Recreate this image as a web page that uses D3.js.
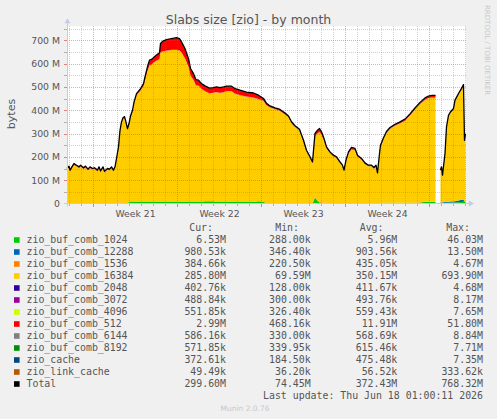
<!DOCTYPE html>
<html><head><meta charset="utf-8">
<script src="https://cdn.jsdelivr.net/npm/d3@7"></script>
<style>body{margin:0;background:#F0F0F0;}svg{display:block;}</style>
</head><body><svg id="c" width="497" height="419"></svg>
<script>
const title = "Slabs size [zio] - by month";
const startTime = "2026-05-15T20:00:00Z";
const spanHours = 798;
const hoursFromStart = [
0,4,6,11,14,19,24,27,33,37,42,46,51,55,61,64,67,72,75,81,
85,89,93,96,99,103,106,109,112,115,117,121,124,127,131,134,139,146,153,156,
161,165,169,174,179,185,187,191,199,209,219,225,229,236,243,247,253,258,263,269,
276,285,293,299,306,313,319,329,336,346,359,373,383,393,399,406,416,426,436,443,
449,456,465,473,479,486,491,496,501,505,509,514,519,526,533,539,546,551,554,558,
563,569,576,581,589,596,603,609,614,618,621,625,627,633,639,646,656,666,676,686,
696,706,716,723,730,737,742,747,749,751,756,759,763,767,773,776,783,789,793,795,797];

const seriesNames = ["zio_buf_comb_1024","zio_buf_comb_12288","zio_buf_comb_1536","zio_buf_comb_16384","zio_buf_comb_2048","zio_buf_comb_3072","zio_buf_comb_4096","zio_buf_comb_512","zio_buf_comb_6144","zio_buf_comb_8192","zio_cache","zio_link_cache"];
const seriesColors = ["#00CC00","#0066B3","#FF8000","#FFCC00","#330099","#990099","#CCFF00","#FF0000","#808080","#008F00","#00487D","#B35A00"];

// values in MB
const s1024 = [
0.5,0.5,0.5,0.5,0.5,0.5,0.5,0.5,0.5,0.5,0.5,0.5,0.5,0.5,0.5,0.5,0.5,0.5,0.5,0.5,
0.5,0.5,0.5,0.5,0.5,0.5,0.5,0.5,0.5,0.5,0.5,0.5,6,6,6,6,6,6,6,6,
6,6,6,6,6,6,6,6,6,6,6,6,6,6,6,6,6,6,6,6,
6,6,6,6,6,6,6,6,6,6,6,6,6,6,0.5,0.5,0.5,0.5,0.5,0.5,
0.5,0.5,0.5,0.5,0.5,0.5,0.5,25,10,4,2,0.5,0.5,0.5,0.5,0.5,0.5,0.5,0.5,0.5,
0.5,0.5,0.5,0.5,0.5,0.5,0.5,0.5,0.5,0.5,0.5,0.5,3,3,3,3,3,3,3,3,
3,3,7,7,7,7,null,2,2,2,3,3,3,4,4,4,5,6,7,7,6.5];
const s12288 = [
0.4,0.4,0.4,0.4,0.4,0.4,0.4,0.4,0.4,0.4,0.4,0.4,0.4,0.4,0.4,0.4,0.4,0.4,0.4,0.4,
0.4,0.4,0.4,0.4,0.4,0.4,0.4,0.4,0.4,0.4,0.4,0.4,0.4,0.4,0.4,0.4,0.4,0.4,0.4,0.4,
0.4,0.4,0.4,0.4,0.4,0.4,0.4,0.4,0.4,0.4,0.4,0.4,0.4,0.4,0.4,0.4,0.4,0.4,0.4,0.4,
3,3,3,0.4,0.4,0.4,0.4,0.4,0.4,0.4,0.4,0.4,3,2,0.4,0.4,0.4,0.4,0.4,0.4,
0.4,0.4,0.4,0.4,0.4,0.4,0.4,0.4,0.4,0.4,0.4,0.4,0.4,0.4,0.4,0.4,0.4,0.4,0.4,0.4,
0.4,0.4,0.4,0.4,0.4,0.4,0.4,0.4,0.4,0.4,0.4,0.4,0.4,0.4,0.4,0.4,0.4,0.4,0.4,0.4,
0.4,0.4,0.4,0.4,0.4,0.4,null,2,2,2,4,4,4,5,5,6,8,10,10,2,1];
const s1536 = [
0.3,0.3,0.3,0.3,0.3,0.3,0.3,0.3,0.3,0.3,0.3,0.3,0.3,0.3,0.3,0.3,0.3,0.3,0.3,0.3,
0.3,0.3,0.3,0.3,2,3,3,3,2,0.3,0.3,0.3,0.3,0.3,0.3,0.3,0.3,0.3,0.3,0.3,
0.3,0.3,0.3,0.3,0.3,0.3,0.3,0.3,0.3,0.3,0.3,0.3,0.3,0.3,0.3,0.3,0.3,0.3,0.3,0.3,
0.3,0.3,0.3,0.3,0.3,0.3,0.3,0.3,0.3,0.3,0.3,0.3,0.3,0.3,0.3,0.3,0.3,0.3,0.3,0.3,
0.3,0.3,0.3,0.3,0.3,0.3,0.3,2,3,3,3,2,2,0.3,0.3,0.3,0.3,0.3,0.3,0.3,
0.3,0.3,0.3,0.3,0.3,0.3,0.3,0.3,0.3,0.3,0.3,0.3,0.3,0.3,0.3,0.3,0.3,0.3,0.3,0.3,
0.3,2,0.3,0.3,0.3,0.3,null,0.3,0.3,0.3,0.3,0.3,0.3,0.3,0.3,0.3,0.3,0.3,0.3,0.3,0.3];
const s16384 = [
143,153,136,154,164,157,150,157,146,153,140,150,143,146,136,150,133,150,131,143,
140,150,136,150,184,233,304,340,359,365,350,314,330,362,387,422,457,474,496,521,
562,585,588,597,605,611,641,643,648,651,651,649,639,614,578,541,522,499,498,484,
472,462,464,470,467,470,473,473,463,457,450,446,437,431,420,410,402,395,380,367,
342,326,311,264,221,193,171,260,286,299,289,267,233,214,200,193,171,157,136,179,
213,230,227,200,186,167,157,157,147,157,124,207,240,272,299,316,329,339,351,373,
399,420,436,443,445,445,null,133,147,111,201,315,365,378,392,427,452,471,486,255,286];
const s2048 = [
0.4,0.4,0.4,0.4,0.4,0.4,0.4,0.4,0.4,0.4,0.4,0.4,0.4,0.4,0.4,0.4,0.4,0.4,0.4,0.4,
0.4,0.4,0.4,0.4,0.4,0.4,0.4,0.4,0.4,0.4,0.4,0.4,0.4,0.4,0.4,0.4,0.4,0.4,0.4,0.4,
0.4,0.4,0.4,0.4,0.4,0.4,0.4,0.4,0.4,0.4,0.4,0.4,0.4,0.4,0.4,0.4,0.4,0.4,0.4,0.4,
0.4,0.4,0.4,0.4,0.4,0.4,0.4,0.4,0.4,0.4,0.4,0.4,0.4,0.4,0.4,0.4,0.4,0.4,0.4,0.4,
0.4,0.4,0.4,0.4,0.4,0.4,0.4,0.4,0.4,0.4,0.4,0.4,0.4,0.4,0.4,0.4,0.4,0.4,0.4,0.4,
0.4,0.4,0.4,0.4,0.4,0.4,0.4,0.4,0.4,0.4,0.4,0.4,0.4,0.4,0.4,0.4,0.4,0.4,0.4,0.4,
0.4,0.4,0.4,0.4,0.4,0.4,null,0.4,0.4,0.4,0.4,0.4,0.4,0.4,0.4,0.4,0.4,0.4,0.4,0.4,0.4];
const s3072 = [
0.49,0.49,0.49,0.49,0.49,0.49,0.49,0.49,0.49,0.49,0.49,0.49,0.49,0.49,0.49,0.49,0.49,0.49,0.49,0.49,
0.49,0.49,0.49,0.49,0.49,0.49,0.49,0.49,0.49,0.49,0.49,0.49,0.49,0.49,0.49,0.49,0.49,0.49,0.49,0.49,
0.49,0.49,0.49,0.49,0.49,0.49,0.49,0.49,0.49,0.49,0.49,0.49,0.49,0.49,0.49,0.49,0.49,0.49,0.49,0.49,
0.49,0.49,0.49,0.49,0.49,0.49,0.49,0.49,0.49,0.49,0.49,0.49,0.49,0.49,0.49,0.49,0.49,0.49,0.49,0.49,
0.49,0.49,0.49,0.49,0.49,0.49,0.49,0.49,0.49,0.49,0.49,0.49,0.49,0.49,0.49,0.49,0.49,0.49,0.49,0.49,
0.49,0.49,0.49,0.49,0.49,0.49,0.49,0.49,0.49,0.49,0.49,0.49,0.49,0.49,0.49,0.49,0.49,0.49,0.49,0.49,
0.49,0.49,0.49,0.49,0.49,0.49,null,0.49,0.49,0.49,0.49,0.49,0.49,0.49,0.49,0.49,0.49,0.49,0.49,0.49,0.49];
const s4096 = [
0.55,0.55,0.55,0.55,0.55,0.55,0.55,0.55,0.55,0.55,0.55,0.55,0.55,0.55,0.55,0.55,0.55,0.55,0.55,0.55,
0.55,0.55,0.55,0.55,0.55,0.55,0.55,0.55,0.55,0.55,0.55,0.55,0.55,0.55,0.55,0.55,0.55,0.55,0.55,0.55,
0.55,0.55,0.55,0.55,0.55,0.55,0.55,0.55,0.55,0.55,0.55,0.55,0.55,0.55,0.55,0.55,0.55,0.55,0.55,0.55,
0.55,0.55,0.55,0.55,0.55,0.55,0.55,0.55,0.55,0.55,0.55,0.55,0.55,0.55,0.55,0.55,0.55,0.55,0.55,0.55,
0.55,0.55,0.55,0.55,0.55,0.55,0.55,0.55,0.55,0.55,0.55,0.55,0.55,0.55,0.55,0.55,0.55,0.55,0.55,0.55,
0.55,0.55,0.55,0.55,0.55,0.55,0.55,0.55,0.55,0.55,0.55,0.55,0.55,0.55,0.55,0.55,0.55,0.55,0.55,0.55,
0.55,0.55,0.55,0.55,0.55,0.55,null,0.55,0.55,0.55,0.55,0.55,0.55,0.55,0.55,0.55,0.55,0.55,0.55,0.55,0.55];
const s512 = [
3,3,3,3,3,3,3,3,3,3,3,3,3,3,3,3,3,3,3,3,
3,3,3,3,3,3,3,3,3,3,3,3,3,3,3,3,4,5,8,12,
15,20,20,20,22,25,35,42,45,46,50,48,44,40,33,28,25,22,21,20,
20,20,20,20,20,20,20,20,20,19,18,18,15,8,5,4,4,4,4,4,
4,3,3,3,3,3,3,10,12,12,10,6,4,3,3,3,3,3,3,3,
4,6,5,3,3,3,3,3,3,3,3,3,3,3,3,3,4,4,4,4,
4,5,6,7,8,8,null,3,3,3,3,3,3,3,3,3,3,3,3,3,3];
const s6144 = [
0.59,0.59,0.59,0.59,0.59,0.59,0.59,0.59,0.59,0.59,0.59,0.59,0.59,0.59,0.59,0.59,0.59,0.59,0.59,0.59,
0.59,0.59,0.59,0.59,0.59,0.59,0.59,0.59,0.59,0.59,0.59,0.59,0.59,0.59,0.59,0.59,0.59,0.59,0.59,0.59,
0.59,0.59,0.59,0.59,0.59,0.59,0.59,0.59,0.59,0.59,0.59,0.59,0.59,0.59,0.59,0.59,0.59,0.59,0.59,0.59,
0.59,0.59,0.59,0.59,0.59,0.59,0.59,0.59,0.59,0.59,0.59,0.59,0.59,0.59,0.59,0.59,0.59,0.59,0.59,0.59,
0.59,0.59,0.59,0.59,0.59,0.59,0.59,0.59,0.59,0.59,0.59,0.59,0.59,0.59,0.59,0.59,0.59,0.59,0.59,0.59,
0.59,0.59,0.59,0.59,0.59,0.59,0.59,0.59,0.59,0.59,0.59,0.59,0.59,0.59,0.59,0.59,0.59,0.59,0.59,0.59,
0.59,0.59,0.59,0.59,0.59,0.59,null,0.59,0.59,0.59,0.59,0.59,0.59,0.59,0.59,0.59,0.59,0.59,0.59,0.59,0.59];
const s8192 = [
0.57,0.57,0.57,0.57,0.57,0.57,0.57,0.57,0.57,0.57,0.57,0.57,0.57,0.57,0.57,0.57,0.57,0.57,0.57,0.57,
0.57,0.57,0.57,0.57,0.57,0.57,0.57,0.57,0.57,0.57,0.57,0.57,0.57,0.57,0.57,0.57,0.57,0.57,0.57,0.57,
0.57,0.57,0.57,0.57,0.57,0.57,0.57,0.57,0.57,0.57,0.57,0.57,0.57,0.57,0.57,0.57,0.57,0.57,0.57,0.57,
0.57,0.57,0.57,0.57,0.57,0.57,0.57,0.57,0.57,0.57,0.57,0.57,0.57,0.57,0.57,0.57,0.57,0.57,0.57,0.57,
0.57,0.57,0.57,0.57,0.57,0.57,0.57,0.57,0.57,0.57,0.57,0.57,0.57,0.57,0.57,0.57,0.57,0.57,0.57,0.57,
0.57,0.57,0.57,0.57,0.57,0.57,0.57,0.57,0.57,0.57,0.57,0.57,0.57,0.57,0.57,0.57,0.57,0.57,0.57,0.57,
0.57,0.57,0.57,0.57,0.57,0.57,null,0.57,0.57,0.57,0.57,0.57,0.57,0.57,0.57,0.57,0.57,0.57,0.57,0.57,0.57];
const sCache = [
0.37,0.37,0.37,0.37,0.37,0.37,0.37,0.37,0.37,0.37,0.37,0.37,0.37,0.37,0.37,0.37,0.37,0.37,0.37,0.37,
0.37,0.37,0.37,0.37,0.37,0.37,0.37,0.37,0.37,0.37,0.37,0.37,0.37,0.37,0.37,0.37,0.37,0.37,0.37,0.37,
0.37,0.37,0.37,0.37,0.37,0.37,0.37,0.37,0.37,0.37,0.37,0.37,0.37,0.37,0.37,0.37,0.37,0.37,0.37,0.37,
0.37,0.37,0.37,0.37,0.37,0.37,0.37,0.37,0.37,0.37,0.37,0.37,0.37,0.37,0.37,0.37,0.37,0.37,0.37,0.37,
0.37,0.37,0.37,0.37,0.37,0.37,0.37,0.37,0.37,0.37,0.37,0.37,0.37,0.37,0.37,0.37,0.37,0.37,0.37,0.37,
0.37,0.37,0.37,0.37,0.37,0.37,0.37,0.37,0.37,0.37,0.37,0.37,0.37,0.37,0.37,0.37,0.37,0.37,0.37,0.37,
0.37,0.37,0.37,0.37,0.37,0.37,null,0.37,0.37,0.37,0.37,0.37,0.37,0.37,0.37,0.37,0.37,0.37,0.37,0.37,0.37];
const sLinkCache = [
0.05,0.05,0.05,0.05,0.05,0.05,0.05,0.05,0.05,0.05,0.05,0.05,0.05,0.05,0.05,0.05,0.05,0.05,0.05,0.05,
0.05,0.05,0.05,0.05,0.05,0.05,0.05,0.05,0.05,0.05,0.05,0.05,0.05,0.05,0.05,0.05,0.05,0.05,0.05,0.05,
0.05,0.05,0.05,0.05,0.05,0.05,0.05,0.05,0.05,0.05,0.05,0.05,0.05,0.05,0.05,0.05,0.05,0.05,0.05,0.05,
0.05,0.05,0.05,0.05,0.05,0.05,0.05,0.05,0.05,0.05,0.05,0.05,0.05,0.05,0.05,0.05,0.05,0.05,0.05,0.05,
0.05,0.05,0.05,0.05,0.05,0.05,0.05,0.05,0.05,0.05,0.05,0.05,0.05,0.05,0.05,0.05,0.05,0.05,0.05,0.05,
0.05,0.05,0.05,0.05,0.05,0.05,0.05,0.05,0.05,0.05,0.05,0.05,0.05,0.05,0.05,0.05,0.05,0.05,0.05,0.05,
0.05,0.05,0.05,0.05,0.05,0.05,null,0.05,0.05,0.05,0.05,0.05,0.05,0.05,0.05,0.05,0.05,0.05,0.05,0.05,0.05];

const yTickValues = [0,100,200,300,400,500,600,700];
const yTickLabels = ["0","100 M","200 M","300 M","400 M","500 M","600 M","700 M"];
const weekLabelDates = ["2026-05-21T12:00:00Z","2026-05-28T12:00:00Z","2026-06-04T12:00:00Z","2026-06-11T12:00:00Z"];

const legendCur = ["6.53M","980.53k","384.66k","285.80M","402.76k","488.84k","551.85k","2.99M","586.16k","571.85k","372.61k","49.49k","299.60M"];
const legendMin = ["288.00k","346.40k","220.50k","69.59M","128.00k","300.00k","326.40k","468.16k","330.00k","339.95k","184.50k","36.20k","74.45M"];
const legendAvg = ["5.96M","903.56k","435.05k","350.15M","411.67k","493.76k","559.43k","11.91M","568.69k","615.46k","475.48k","56.52k","372.43M"];
const legendMax = ["46.03M","13.50M","4.67M","693.90M","4.68M","8.17M","7.65M","51.80M","8.84M","7.71M","7.35M","333.62k","768.32M"];
const lastUpdate = "Last update: Thu Jun 18 01:00:11 2026";

const seriesValues = [s1024,s12288,s1536,s16384,s2048,s3072,s4096,s512,s6144,s8192,sCache,sLinkCache];

const svg = d3.select("#c");
const X0 = 67, X1 = 466, YB = 203.5, YT = 26.2;
const t0 = new Date(startTime);
const x = d3.scaleUtc().domain([t0, d3.utcHour.offset(t0, spanHours)]).range([X0, X1]);
const y = d3.scaleLinear().domain([0, 760]).range([YB, YT]);
const sans = "DejaVu Sans, sans-serif", mono = "DejaVu Sans Mono, monospace";

svg.append("rect").attr("x",X0).attr("y",YT).attr("width",X1-X0).attr("height",YB-YT).attr("fill","#fff");

const rows = hoursFromStart.map((h,i) => {
  const r = {t: d3.utcHour.offset(t0, 0).getTime() + h*3600e3, ok: s16384[i] != null};
  seriesNames.forEach((k,j) => r[k] = seriesValues[j][i] == null ? 0 : seriesValues[j][i]);
  return r;
});
const stacked = d3.stack().keys(seriesNames)(rows);
const area = d3.area().defined(d => d.data.ok).x(d => x(d.data.t)).y0(d => y(d[0])).y1(d => y(d[1]));
stacked.forEach((s,j) => svg.append("path").attr("d", area(s)).attr("fill", seriesColors[j]));

// grid
const g = svg.append("g").attr("shape-rendering","crispEdges");
const minorC = "rgba(120,120,120,0.35)", majorC = "rgba(230,60,60,0.45)";
d3.range(50, 800, 50).forEach(v => {
  const yy = Math.round(y(v)) + 0.5;
  if (yy < YT) return;
  g.append("line").attr("x1",X0).attr("x2",X1).attr("y1",yy).attr("y2",yy)
    .attr("stroke", v % 100 === 0 ? majorC : minorC).attr("stroke-dasharray","1,1");
});
const days = d3.utcDay.range(d3.utcDay.ceil(x.domain()[0]), x.domain()[1]);
days.forEach(d => {
  const xx = Math.round(x(d)) + 0.5;
  const major = d.getUTCDay() === 1;
  g.append("line").attr("x1",xx).attr("x2",xx).attr("y1",YT).attr("y2",YB)
    .attr("stroke", major ? majorC : minorC).attr("stroke-dasharray","1,1");
  g.append("line").attr("x1",xx).attr("x2",xx).attr("y1",YB).attr("y2",YB+(major?3:2))
    .attr("stroke", major ? "#E08080" : "#B0B0B0");
});
d3.range(50, 800, 50).forEach(v => {
  const yy = Math.round(y(v)) + 0.5;
  if (yy < YT) return;
  g.append("line").attr("x1",X0-3).attr("x2",X0).attr("y1",yy).attr("y2",yy)
    .attr("stroke", v % 100 === 0 ? "#E08080" : "#B0B0B0");
});

// total line
const line = d3.line().defined(d => d.data.ok).x(d => x(d.data.t)).y(d => y(d[1]));
svg.append("path").attr("d", line(stacked[stacked.length-1])).attr("fill","none")
  .attr("stroke","#000").attr("stroke-width",1.3).attr("stroke-linejoin","round");

// axes lines with arrows
const axC = "#C4CAEC";
svg.append("line").attr("x1",X0-3).attr("x2",X1+3).attr("y1",YB).attr("y2",YB).attr("stroke",axC);
svg.append("path").attr("d",`M${X1+3},${YB-3}L${X1+8},${YB}L${X1+3},${YB+3}Z`).attr("fill",axC);
svg.append("line").attr("x1",X0+0.5).attr("x2",X0+0.5).attr("y1",YB+3).attr("y2",YT-3).attr("stroke",axC);
svg.append("path").attr("d",`M${X0-2.5},${YT-3}L${X0+0.5},${YT-8}L${X0+3.5},${YT-3}Z`).attr("fill",axC);

// y axis labels
const yAxis = svg.append("g").attr("transform",`translate(${X0},0)`)
  .call(d3.axisLeft(y).tickValues(yTickValues).tickSize(0).tickPadding(7)
    .tickFormat((d,i) => yTickLabels[i]));
yAxis.select(".domain").remove();
yAxis.selectAll("text").attr("font-family",sans).attr("font-size","9.3px").attr("fill","#555");

// x axis labels
const xAxis = svg.append("g").attr("transform",`translate(0,${YB})`)
  .call(d3.axisBottom(x).tickValues(weekLabelDates.map(s => new Date(s))).tickSize(0).tickPadding(6.6)
    .tickFormat(d3.utcFormat("Week %V")));
xAxis.select(".domain").remove();
xAxis.selectAll("text").attr("font-family",sans).attr("font-size","9.3px").attr("fill","#555");

// title and labels
svg.append("text").attr("x",248.5).attr("y",23.5).attr("text-anchor","middle")
  .attr("font-family",sans).attr("font-size","12.5px").attr("fill","#555").text(title);
svg.append("text").attr("transform","translate(15,114) rotate(-90)").attr("text-anchor","middle")
  .attr("font-family",sans).attr("font-size","11px").attr("fill","#555").text("bytes");
svg.append("text").attr("transform","translate(484.5,5) rotate(90)")
  .attr("font-family",sans).attr("font-size","7px").attr("fill","#C8C8C8").text("RRDTOOL / TOBI OETIKER");

// legend
const leg = svg.append("g").attr("font-family",mono).attr("font-size","9.9px").attr("fill","#555");
[["Cur:",213],["Min:",299],["Avg:",383.5],["Max:",470]].forEach(([t,xx]) =>
  leg.append("text").attr("x",xx).attr("y",231).attr("text-anchor","end").text(t));
const legNames = seriesNames.concat(["Total"]);
const legColors = seriesColors.concat(["#000000"]);
legNames.forEach((n,i) => {
  const yy = 243 + i*12;
  leg.append("rect").attr("x",14).attr("y",yy-5.8).attr("width",5.6).attr("height",5.6).attr("fill",legColors[i]);
  leg.append("text").attr("x",26.5).attr("y",yy).text(n);
  [[legendCur,226],[legendMin,310.7],[legendAvg,397.3],[legendMax,483]].forEach(([arr,xx]) =>
    leg.append("text").attr("x",xx).attr("y",yy).attr("text-anchor","end").text(arr[i]));
});
leg.append("text").attr("x",483).attr("y",399).attr("text-anchor","end").text(lastUpdate);
svg.append("text").attr("x",245).attr("y",411).attr("text-anchor","middle")
  .attr("font-family",sans).attr("font-size","7.5px").attr("fill","#C8C8C8").text("Munin 2.0.76");
</script>
</body></html>
